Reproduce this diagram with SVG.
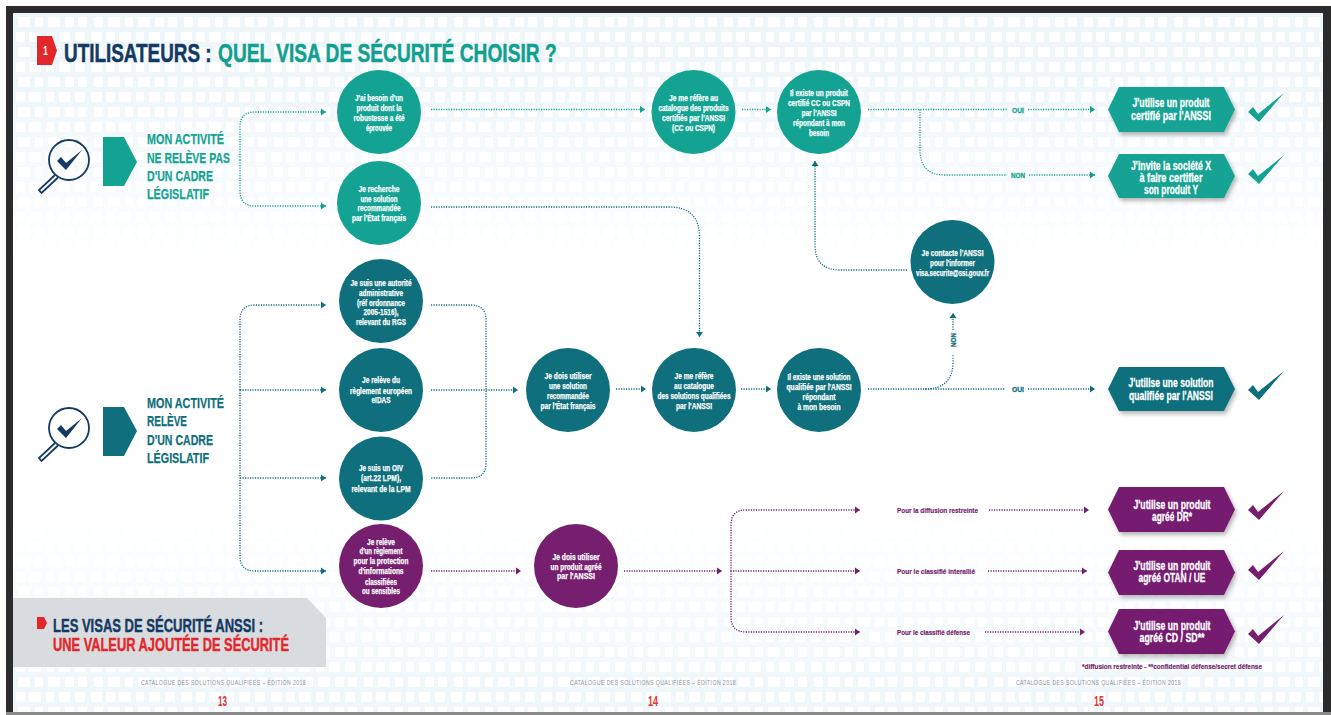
<svg xmlns="http://www.w3.org/2000/svg" width="1331" height="715" viewBox="0 0 1331 715">
<style>
text{font-family:"Liberation Sans Narrow","Liberation Sans",Arial,sans-serif;font-weight:700}
.w{fill:#fff;stroke:#fff;stroke-width:.25;font-size:9px;text-anchor:middle}
.h{fill:#fff;stroke:#fff;stroke-width:.3;font-size:12.5px;text-anchor:middle}
.lt{fill:#14a393}.dt{fill:#0f6f7c}.pu{fill:#761f6f}
.con{fill:none;stroke-width:1.3;stroke-dasharray:1.2 1.3}
.cl{stroke:#14a393;marker-end:url(#al)}.cd{stroke:#0f6f7c;marker-end:url(#ad)}.cp{stroke:#761f6f;marker-end:url(#ap)}
.nl{stroke:#14a393}.nd{stroke:#0f6f7c}.np{stroke:#761f6f}
.lab{font-size:8px;text-anchor:middle;stroke-width:.3}
.lab.lt{stroke:#14a393}.lab.dt{stroke:#0f6f7c}
.big{font-size:15px;stroke-width:.25}
.big.lt{stroke:#14a393}.big.dt{stroke:#0f6f7c}
.small{font-size:8px;stroke:#761f6f;stroke-width:.2}
.foot{fill:#8d9498;font-size:6.5px;font-weight:400;letter-spacing:.5px}
.pg{fill:#e3342f;font-size:14px;text-anchor:middle}
.hex{filter:url(#sh)}
.mg{fill:none;stroke:#143a63;stroke-width:1.8}
</style>
<defs>
<marker id="al" markerUnits="userSpaceOnUse" markerWidth="6" markerHeight="8" refX="5" refY="4" orient="auto"><path d="M0 .5L5 4L0 7.5Z" fill="#14a393"/></marker>
<marker id="ad" markerUnits="userSpaceOnUse" markerWidth="6" markerHeight="8" refX="5" refY="4" orient="auto"><path d="M0 .5L5 4L0 7.5Z" fill="#0f6f7c"/></marker>
<marker id="ap" markerUnits="userSpaceOnUse" markerWidth="6" markerHeight="8" refX="5" refY="4" orient="auto"><path d="M0 .5L5 4L0 7.5Z" fill="#761f6f"/></marker>
<filter id="sh" x="-10%" y="-10%" width="125%" height="135%"><feDropShadow dx="2" dy="3" stdDeviation="2" flood-color="#000" flood-opacity=".28"/></filter>
<pattern id="dots" width="90" height="30" patternUnits="userSpaceOnUse">
<rect width="90" height="30" fill="#eef6fa"/>
<g fill="#fff"><rect x="1" y="2" width="11" height="10" rx="1"/><rect x="16" y="2" width="9" height="10" rx="1"/><rect x="29" y="2" width="12" height="10" rx="1"/><rect x="46" y="2" width="8" height="10" rx="1"/><rect x="59" y="2" width="11" height="10" rx="1"/><rect x="75" y="2" width="10" height="10" rx="1"/>
<rect x="4" y="17" width="9" height="10" rx="1"/><rect x="18" y="17" width="12" height="10" rx="1"/><rect x="35" y="17" width="8" height="10" rx="1"/><rect x="48" y="17" width="12" height="10" rx="1"/><rect x="65" y="17" width="9" height="10" rx="1"/><rect x="78" y="17" width="9" height="10" rx="1"/></g>
</pattern>
<linearGradient id="fade" x1="0" y1="0" x2="0" y2="1">
<stop offset="0" stop-color="#fff" stop-opacity="0"/><stop offset=".12" stop-color="#fff" stop-opacity=".1"/><stop offset=".36" stop-color="#fff" stop-opacity="1"/><stop offset=".72" stop-color="#fff" stop-opacity="1"/><stop offset=".97" stop-color="#fff" stop-opacity=".1"/>
</linearGradient>
<g id="check"><path d="M0 19L5 14L10 21L36 0L11 29Z"/></g>
<g id="mag"><circle cx="0" cy="0" r="20" class="mg"/><path d="M-14 15L-30 30L-27.500 33L-11 17.500" class="mg"/><path d="M-12 1L-8 -3L-3 3L13 -10L-3 10Z" fill="#143a63"/></g>
</defs>
<rect width="1331" height="715" fill="#fff"/>
<rect x="6" y="6" width="1325" height="709" fill="#2b2b2b"/>
<rect x="13" y="13" width="1310" height="699" fill="url(#dots)"/>
<rect x="13" y="13" width="1310" height="699" fill="url(#fade)"/>
<rect x="6" y="712" width="1325" height="3" fill="#8a8a8a"/>

<g id="title">
<path d="M37 36H52L57 50.500L52 65H37Z" fill="#e3262a"/>
<text x="43" y="55" fill="#fff" font-size="12" textLength="5" lengthAdjust="spacingAndGlyphs">1</text>
<text transform="translate(64 61.500) scale(.756 1)" fill="#143a63" stroke="#143a63" stroke-width=".5" font-size="25">UTILISATEURS :</text>
<text transform="translate(218 61.500) scale(.767 1)" fill="#10a090" stroke="#10a090" stroke-width=".5" font-size="25">QUEL VISA DE SÉCURITÉ CHOISIR ?</text>
</g>

<g id="connectors">
<path class="con cl" d="M240 160V127Q240 112 255 112H326"/>
<path class="con cl" d="M240 160V191Q240 206 255 206H326"/>
<path class="con cl" d="M431 109.500H645"/>
<path class="con cl" d="M742 109.500H771"/>
<path class="con nl" d="M868 109.500H1008"/>
<path class="con cl" d="M1028 109.500H1095"/>
<path class="con nl" d="M920 109.500V150Q920 175 945 175H1007"/>
<path class="con cl" d="M1029 175H1095"/>
<path class="con cd" d="M431 207H669Q699.500 207 699.500 237V337"/>
<path class="con cd" d="M907 270H840Q815 270 815 245V161"/>
<path class="con cd" d="M240 390V320Q240 305 255 305H326"/>
<path class="con cd" d="M240 390V556Q240 571 255 571H326"/>
<path class="con cd" d="M240 390H326"/>
<path class="con cd" d="M240 478H326"/>
<path class="con cd" d="M431 390H518"/>
<path class="con nd" d="M431 305H471Q486 305 486 320V463Q486 478 471 478H431"/>
<path class="con cd" d="M616 389H646"/>
<path class="con cd" d="M741 389H771"/>
<path class="con nd" d="M868 389H1005"/>
<path class="con cd" d="M1028 389H1095"/>
<path class="con nd" d="M925 389Q953 389 953 362V354"/>
<path class="con cd" d="M953 330V313"/>
<path class="con cp" d="M431 571H521"/>
<path class="con cp" d="M624 571H722"/>
<path class="con cp" d="M731 571V525Q731 510 746 510H860"/>
<path class="con cp" d="M731 571V617Q731 632 746 632H860"/>
<path class="con cp" d="M733 571H860"/>
<path class="con cp" d="M989 510H1089"/>
<path class="con cp" d="M988 571H1087"/>
<path class="con cp" d="M985 632H1085"/>
<text class="lab lt" x="1018" y="113" textLength="12" lengthAdjust="spacingAndGlyphs">OUI</text>
<text class="lab lt" x="1018" y="178" textLength="14" lengthAdjust="spacingAndGlyphs">NON</text>
<text class="lab dt" x="1018" y="392" textLength="12" lengthAdjust="spacingAndGlyphs">OUI</text>
<text class="lab dt" x="953" y="343" transform="rotate(-90 953 340)" textLength="14" lengthAdjust="spacingAndGlyphs">NON</text>
<text class="pu small" x="897" y="513" textLength="81" lengthAdjust="spacingAndGlyphs">Pour la diffusion restreinte</text>
<text class="pu small" x="897" y="574" textLength="78" lengthAdjust="spacingAndGlyphs">Pour le classifié interallié</text>
<text class="pu small" x="897" y="635" textLength="73" lengthAdjust="spacingAndGlyphs">Pour le classifié défense</text>
</g>

<g id="entry-a">
<use href="#mag" x="69" y="160"/>
<path class="lt" d="M103 137H124L137 162L124 186H103Z"/>
<g class="lt big">
<text x="147" y="144" textLength="77" lengthAdjust="spacingAndGlyphs">MON ACTIVITÉ</text>
<text x="147" y="163" textLength="83" lengthAdjust="spacingAndGlyphs">NE RELÈVE PAS</text>
<text x="147" y="181" textLength="66" lengthAdjust="spacingAndGlyphs">D'UN CADRE</text>
<text x="147" y="199" textLength="62" lengthAdjust="spacingAndGlyphs">LÉGISLATIF</text>
</g></g>
<g id="entry-b">
<use href="#mag" x="69" y="428"/>
<path class="dt" d="M103 407H124L137 431L124 456H103Z"/>
<g class="dt big">
<text x="147" y="408" textLength="77" lengthAdjust="spacingAndGlyphs">MON ACTIVITÉ</text>
<text x="147" y="426" textLength="40" lengthAdjust="spacingAndGlyphs">RELÈVE</text>
<text x="147" y="445" textLength="66" lengthAdjust="spacingAndGlyphs">D'UN CADRE</text>
<text x="147" y="463" textLength="62" lengthAdjust="spacingAndGlyphs">LÉGISLATIF</text>
</g></g>

<g id="n-besoin"><circle class="lt" cx="379" cy="112" r="42"/>
<text class="w" x="379" y="101" textLength="48" lengthAdjust="spacingAndGlyphs">J'ai besoin d'un</text>
<text class="w" x="379" y="110.500" textLength="45" lengthAdjust="spacingAndGlyphs">produit dont la</text>
<text class="w" x="379" y="120.500" textLength="51" lengthAdjust="spacingAndGlyphs">robustesse a été</text>
<text class="w" x="379" y="131" textLength="26" lengthAdjust="spacingAndGlyphs">éprouvée</text></g>
<g id="n-recherche"><circle class="lt" cx="379" cy="203" r="42"/>
<text class="w" x="379" y="192" textLength="41" lengthAdjust="spacingAndGlyphs">Je recherche</text>
<text class="w" x="379" y="201.500" textLength="37" lengthAdjust="spacingAndGlyphs">une solution</text>
<text class="w" x="379" y="211" textLength="43" lengthAdjust="spacingAndGlyphs">recommandée</text>
<text class="w" x="379" y="221" textLength="54" lengthAdjust="spacingAndGlyphs">par l'État français</text></g>
<g id="n-catalogue-produits"><circle class="lt" cx="693.500" cy="112" r="42"/>
<text class="w" x="693.500" y="101" textLength="49" lengthAdjust="spacingAndGlyphs">Je me réfère au</text>
<text class="w" x="693.500" y="111" textLength="70" lengthAdjust="spacingAndGlyphs">catalogue des produits</text>
<text class="w" x="693.500" y="121" textLength="63" lengthAdjust="spacingAndGlyphs">certifiés par l'ANSSI</text>
<text class="w" x="693.500" y="131" textLength="43" lengthAdjust="spacingAndGlyphs">(CC ou CSPN)</text></g>
<g id="n-existe-produit"><circle class="lt" cx="819" cy="112" r="42"/>
<text class="w" x="819" y="96" textLength="58" lengthAdjust="spacingAndGlyphs">Il existe un produit</text>
<text class="w" x="819" y="106" textLength="62" lengthAdjust="spacingAndGlyphs">certifié CC ou CSPN</text>
<text class="w" x="819" y="116" textLength="35" lengthAdjust="spacingAndGlyphs">par l'ANSSI</text>
<text class="w" x="819" y="126" textLength="52" lengthAdjust="spacingAndGlyphs">répondant à mon</text>
<text class="w" x="819" y="136" textLength="20" lengthAdjust="spacingAndGlyphs">besoin</text></g>
<g id="n-contacte"><circle class="dt" cx="952.500" cy="262" r="42"/>
<text class="w" x="952.500" y="256" textLength="62" lengthAdjust="spacingAndGlyphs">Je contacte l'ANSSI</text>
<text class="w" x="952.500" y="266" textLength="45" lengthAdjust="spacingAndGlyphs">pour l'informer</text>
<text class="w" x="952.500" y="276" textLength="73" lengthAdjust="spacingAndGlyphs">visa.securite@ssi.gouv.fr</text></g>

<g id="n-autorite"><circle class="dt" cx="381" cy="301" r="42"/>
<text class="w" x="381" y="286" textLength="61" lengthAdjust="spacingAndGlyphs">Je suis une autorité</text>
<text class="w" x="381" y="296" textLength="44" lengthAdjust="spacingAndGlyphs">administrative</text>
<text class="w" x="381" y="306" textLength="48" lengthAdjust="spacingAndGlyphs">(réf ordonnance</text>
<text class="w" x="381" y="315" textLength="35" lengthAdjust="spacingAndGlyphs">2005-1516),</text>
<text class="w" x="381" y="325" textLength="50" lengthAdjust="spacingAndGlyphs">relevant du RGS</text></g>
<g id="n-eidas"><circle class="dt" cx="381" cy="390" r="42"/>
<text class="w" x="381" y="383" textLength="38" lengthAdjust="spacingAndGlyphs">Je relève du</text>
<text class="w" x="381" y="394" textLength="62" lengthAdjust="spacingAndGlyphs">règlement européen</text>
<text class="w" x="381" y="403" textLength="19" lengthAdjust="spacingAndGlyphs">eIDAS</text></g>
<g id="n-oiv"><circle class="dt" cx="381" cy="478.500" r="42"/>
<text class="w" x="381" y="471" textLength="44" lengthAdjust="spacingAndGlyphs">Je suis un OIV</text>
<text class="w" x="381" y="481" textLength="40" lengthAdjust="spacingAndGlyphs">(art.22 LPM),</text>
<text class="w" x="381" y="492" textLength="59" lengthAdjust="spacingAndGlyphs">relevant de la LPM</text></g>
<g id="n-reglement"><circle class="pu" cx="381" cy="566" r="42"/>
<text class="w" x="381" y="545" textLength="28" lengthAdjust="spacingAndGlyphs">Je relève</text>
<text class="w" x="381" y="554" textLength="43" lengthAdjust="spacingAndGlyphs">d'un règlement</text>
<text class="w" x="381" y="564" textLength="55" lengthAdjust="spacingAndGlyphs">pour la protection</text>
<text class="w" x="381" y="574" textLength="45" lengthAdjust="spacingAndGlyphs">d'informations</text>
<text class="w" x="381" y="585" textLength="32" lengthAdjust="spacingAndGlyphs">classifiées</text>
<text class="w" x="381" y="594" textLength="38" lengthAdjust="spacingAndGlyphs">ou sensibles</text></g>
<g id="n-dois-solution"><circle class="dt" cx="568" cy="390" r="42"/>
<text class="w" x="568" y="379" textLength="47" lengthAdjust="spacingAndGlyphs">Je dois utiliser</text>
<text class="w" x="568" y="389" textLength="38" lengthAdjust="spacingAndGlyphs">une solution</text>
<text class="w" x="568" y="399" textLength="42" lengthAdjust="spacingAndGlyphs">recommandée</text>
<text class="w" x="568" y="409" textLength="55" lengthAdjust="spacingAndGlyphs">par l'État français</text></g>
<g id="n-catalogue-solutions"><circle class="dt" cx="694" cy="390" r="42"/>
<text class="w" x="694" y="379" textLength="39" lengthAdjust="spacingAndGlyphs">Je me réfère</text>
<text class="w" x="694" y="389" textLength="40" lengthAdjust="spacingAndGlyphs">au catalogue</text>
<text class="w" x="694" y="399" textLength="73" lengthAdjust="spacingAndGlyphs">des solutions qualifiées</text>
<text class="w" x="694" y="409" textLength="36" lengthAdjust="spacingAndGlyphs">par l'ANSSI</text></g>
<g id="n-existe-solution"><circle class="dt" cx="819" cy="390" r="42"/>
<text class="w" x="819" y="380" textLength="63" lengthAdjust="spacingAndGlyphs">Il existe une solution</text>
<text class="w" x="819" y="390" textLength="65" lengthAdjust="spacingAndGlyphs">qualifiée par l'ANSSI</text>
<text class="w" x="819" y="400" textLength="33" lengthAdjust="spacingAndGlyphs">répondant</text>
<text class="w" x="819" y="410" textLength="43" lengthAdjust="spacingAndGlyphs">à mon besoin</text></g>
<g id="n-dois-produit"><circle class="pu" cx="576" cy="566" r="42"/>
<text class="w" x="576" y="560" textLength="47" lengthAdjust="spacingAndGlyphs">Je dois utiliser</text>
<text class="w" x="576" y="570" textLength="51" lengthAdjust="spacingAndGlyphs">un produit agréé</text>
<text class="w" x="576" y="579" textLength="38" lengthAdjust="spacingAndGlyphs">par l'ANSSI</text></g>

<g id="r-certifie"><path class="lt hex" d="M1119 87H1224L1235 109.500L1224 132H1119L1108 109.500Z"/>
<text class="h" x="1171" y="107" textLength="77" lengthAdjust="spacingAndGlyphs">J'utilise un produit</text>
<text class="h" x="1171" y="120" textLength="80" lengthAdjust="spacingAndGlyphs">certifié par l'ANSSI</text>
<use href="#check" x="1248" y="93" fill="#14a393"/></g>
<g id="r-invite"><path class="lt hex" d="M1119 154H1224L1235 176L1224 198H1119L1108 176Z"/>
<text class="h" x="1171" y="170" textLength="80" lengthAdjust="spacingAndGlyphs">J'invite la société X</text>
<text class="h" x="1171" y="182" textLength="63" lengthAdjust="spacingAndGlyphs">à faire certifier</text>
<text class="h" x="1171" y="194" textLength="54" lengthAdjust="spacingAndGlyphs">son produit Y</text>
<use href="#check" x="1248" y="155" fill="#14a393"/></g>
<g id="r-qualifiee"><path class="dt hex" d="M1119 367H1224L1235 389L1224 411H1119L1108 389Z"/>
<text class="h" x="1171" y="387" textLength="85" lengthAdjust="spacingAndGlyphs">J'utilise une solution</text>
<text class="h" x="1171" y="400" textLength="84" lengthAdjust="spacingAndGlyphs">qualifiée par l'ANSSI</text>
<use href="#check" x="1248" y="371" fill="#0f6f7c"/></g>
<g id="r-dr"><path class="pu hex" d="M1119 487H1224L1235 509.500L1224 532H1119L1108 509.500Z"/>
<text class="h" x="1172" y="509" textLength="77" lengthAdjust="spacingAndGlyphs">J'utilise un produit</text>
<text class="h" x="1172" y="521" textLength="40" lengthAdjust="spacingAndGlyphs">agréé DR*</text>
<use href="#check" x="1248" y="491" fill="#761f6f"/></g>
<g id="r-otan"><path class="pu hex" d="M1119 550H1224L1235 572.500L1224 595H1119L1108 572.500Z"/>
<text class="h" x="1172" y="570" textLength="77" lengthAdjust="spacingAndGlyphs">J'utilise un produit</text>
<text class="h" x="1172" y="582" textLength="67" lengthAdjust="spacingAndGlyphs">agréé OTAN / UE</text>
<use href="#check" x="1248" y="551" fill="#761f6f"/></g>
<g id="r-cd"><path class="pu hex" d="M1119 609H1224L1235 631.500L1224 654H1119L1108 631.500Z"/>
<text class="h" x="1172" y="630" textLength="77" lengthAdjust="spacingAndGlyphs">J'utilise un produit</text>
<text class="h" x="1172" y="642" textLength="65" lengthAdjust="spacingAndGlyphs">agréé  CD / SD**</text>
<use href="#check" x="1248" y="615" fill="#761f6f"/></g>
<text class="pu small" x="1082" y="669" textLength="180" lengthAdjust="spacingAndGlyphs">*diffusion restreinte - **confidential défense/secret défense</text>

<g id="callout">
<path d="M13 598H307L326 618V667H13Z" fill="#d9dcde"/>
<path d="M37 617H44L47 623L44 629H37Z" fill="#e3262a"/>
<text x="53" y="631.500" fill="#143a63" stroke="#143a63" stroke-width=".4" font-size="18.500" textLength="210" lengthAdjust="spacingAndGlyphs">LES VISAS DE SÉCURITÉ ANSSI :</text>
<text x="53" y="651" fill="#e3262a" stroke="#e3262a" stroke-width=".4" font-size="18.500" textLength="236" lengthAdjust="spacingAndGlyphs">UNE VALEUR AJOUTÉE DE SÉCURITÉ</text>
</g>
<g id="footer">
<text class="foot" x="141" y="685" textLength="165" lengthAdjust="spacingAndGlyphs">CATALOGUE DES SOLUTIONS QUALIFIÉES – ÉDITION 2018</text>
<text class="foot" x="570" y="685" textLength="166" lengthAdjust="spacingAndGlyphs">CATALOGUE DES SOLUTIONS QUALIFIÉES – ÉDITION 2018</text>
<text class="foot" x="1016" y="685" textLength="165" lengthAdjust="spacingAndGlyphs">CATALOGUE DES SOLUTIONS QUALIFIÉES – ÉDITION 2018</text>
<text class="pg" x="222.500" y="705.500" textLength="9" lengthAdjust="spacingAndGlyphs">13</text>
<text class="pg" x="653" y="705.500" textLength="10" lengthAdjust="spacingAndGlyphs">14</text>
<text class="pg" x="1099" y="705.500" textLength="10" lengthAdjust="spacingAndGlyphs">15</text>
</g>
</svg>
